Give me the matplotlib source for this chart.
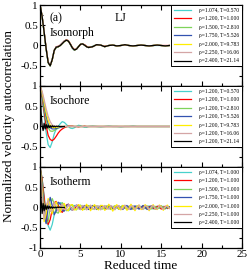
import matplotlib
matplotlib.use("Agg")
import matplotlib.pyplot as plt
import numpy as np

plt.rcParams['font.family'] = ['Liberation Serif', 'DejaVu Serif']
plt.rcParams['axes.unicode_minus'] = False

# colours in legend order
colors = ['#48d1cc', '#ff0000', '#7fd35a', '#3352b0', '#ffee00', '#d4a5a5', '#000000']

# legend labels
labels_isomorph = ['ρ=1.074, T=0.570', 'ρ=1.200, T=1.000', 'ρ=1.500, T=2.810', 'ρ=1.750, T=5.526',
                   'ρ=2.000, T=9.783', 'ρ=2.250, T=16.06', 'ρ=2.400, T=21.14']
labels_isochore = ['ρ=1.200, T=0.570', 'ρ=1.200, T=1.000', 'ρ=1.200, T=2.810', 'ρ=1.200, T=5.526',
                   'ρ=1.200, T=9.783', 'ρ=1.200, T=16.06', 'ρ=1.200, T=21.14']
labels_isotherm = ['ρ=1.074, T=1.000', 'ρ=1.200, T=1.000', 'ρ=1.500, T=1.000', 'ρ=1.750, T=1.000',
                   'ρ=2.000, T=1.000', 'ρ=2.250, T=1.000', 'ρ=2.400, T=1.000']

# time grids (reduced units)
t_long = np.concatenate([np.arange(0, 6.01, 0.25), np.arange(6.5, 16.01, 0.5)])   # 45 pts
t_fine = np.arange(0, 16.01, 0.25)                                                 # 65 pts
t_short = np.arange(0, 3.01, 0.125)                                                # 25 pts

# --- isomorph (all collapse) ---
iso_turq = [1.00, 0.71, 0.31, -0.10, -0.43, -0.51, -0.36, -0.13, -0.05, -0.03, 0.01, 0.06, 0.11, 0.14, 0.11, 0.02, -0.07, -0.12, -0.09, -0.02, 0.03, 0.04, 0.01, -0.03, -0.05,
            -0.02, 0.02, 0.01, -0.02, 0.00, 0.01, -0.01, 0.00, 0.02, 0.00, -0.01, 0.00, 0.01, 0.00, -0.01, 0.00, 0.00, 0.00, -0.01, 0.00]
iso_red = [1.00, 0.72, 0.34, -0.07, -0.41, -0.50, -0.36, -0.13, -0.03, -0.02, 0.01, 0.06, 0.11, 0.14, 0.12, 0.04, -0.05, -0.10, -0.09, -0.03, 0.02, 0.04, 0.02, -0.02, -0.04,
           -0.03, 0.02, 0.01, -0.02, 0.00, 0.01, -0.01, 0.00, 0.01, 0.00, -0.01, 0.00, 0.01, 0.00, -0.01, 0.00, 0.01, 0.00, 0.00, 0.00]
iso_green = [1.00, 0.72, 0.33, -0.08, -0.42, -0.50, -0.35, -0.12, -0.04, -0.03, 0.00, 0.05, 0.10, 0.13, 0.11, 0.03, -0.06, -0.11, -0.09, -0.03, 0.03, 0.04, 0.01, -0.03, -0.05,
             -0.03, 0.02, 0.01, -0.03, 0.00, 0.01, -0.01, 0.00, 0.02, 0.00, -0.01, 0.00, 0.01, 0.00, -0.01, 0.00, 0.01, 0.00, -0.01, 0.00]
iso_blue = [1.00, 0.72, 0.33, -0.08, -0.42, -0.50, -0.35, -0.12, -0.04, -0.03, 0.00, 0.05, 0.10, 0.13, 0.11, 0.03, -0.06, -0.11, -0.09, -0.03, 0.03, 0.04, 0.01, -0.03, -0.05,
            -0.03, 0.02, 0.01, -0.03, 0.00, 0.01, -0.01, 0.00, 0.02, 0.00, -0.01, 0.00, 0.01, 0.00, -0.01, 0.00, 0.01, 0.00, -0.01, 0.00]
iso_yellow = [1.00, 0.72, 0.33, -0.08, -0.42, -0.50, -0.35, -0.12, -0.04, -0.03, 0.00, 0.05, 0.10, 0.13, 0.11, 0.03, -0.06, -0.11, -0.09, -0.03, 0.03, 0.04, 0.01, -0.03, -0.05,
              -0.03, 0.02, 0.01, -0.03, 0.00, 0.01, -0.01, 0.00, 0.02, 0.00, -0.01, 0.00, 0.01, 0.00, -0.01, 0.00, 0.01, 0.00, -0.01, 0.00]
iso_pink = [1.00, 0.73, 0.34, -0.07, -0.41, -0.49, -0.34, -0.11, -0.03, -0.02, 0.01, 0.06, 0.11, 0.13, 0.11, 0.03, -0.06, -0.11, -0.09, -0.03, 0.03, 0.04, 0.01, -0.03, -0.05,
            -0.03, 0.02, 0.01, -0.03, 0.00, 0.01, -0.01, 0.00, 0.02, 0.00, -0.01, 0.00, 0.01, 0.00, -0.01, 0.00, 0.01, 0.00, -0.01, 0.00]
iso_black = [1.00, 0.72, 0.33, -0.08, -0.42, -0.50, -0.35, -0.12, -0.04, -0.03, 0.00, 0.05, 0.10, 0.13, 0.11, 0.03, -0.06, -0.11, -0.09, -0.03, 0.03, 0.04, 0.01, -0.03, -0.05,
             -0.03, 0.02, 0.01, -0.03, 0.00, 0.01, -0.01, 0.00, 0.02, 0.00, -0.01, 0.00, 0.01, 0.00, -0.01, 0.00, 0.01, 0.00, -0.01, 0.00]

# --- isochore rho=1.2 ---
ich_turq = [1.00, 0.70, 0.28, -0.15, -0.45, -0.52, -0.38, -0.18, -0.06, 0.00, 0.07, 0.12, 0.10, 0.05, 0.00, -0.04, -0.05, -0.03, 0.00, 0.03, 0.02, 0.00, -0.02, -0.02, 0.00,
            0.01, 0.00, -0.01, 0.00, 0.01, 0.00, 0.00, -0.01, 0.00, 0.00, 0.01, 0.00, 0.00, 0.00, 0.00, 0.00, 0.00, 0.00, 0.00, 0.00]
ich_red = [1.00, 0.74, 0.38, 0.02, -0.22, -0.32, -0.35, -0.31, -0.24, -0.16, -0.10, -0.06, -0.03, -0.01, 0.01, 0.01, 0.01, 0.00, 0.00, -0.01, 0.00, 0.00, 0.01, 0.00, 0.00,
           0.00, 0.00, 0.00, 0.00, 0.00, 0.00, 0.00, 0.00, 0.00, 0.00, 0.00, 0.00, 0.00, 0.00, 0.00, 0.00, 0.00, 0.00, 0.00, 0.00]
ich_green = [1.00, 0.78, 0.46, 0.16, -0.03, -0.11, -0.12, -0.10, -0.07, -0.04, -0.02, -0.01, 0.00, 0.00, 0.00, 0.00, 0.00, 0.00, 0.00, 0.00, 0.00, 0.00, 0.00, 0.00, 0.00,
             0.00, 0.00, 0.00, 0.00, 0.00, 0.00, 0.00, 0.00, 0.00, 0.00, 0.00, 0.00, 0.00, 0.00, 0.00, 0.00, 0.00, 0.00, 0.00, 0.00]
ich_blue = [1.00, 0.81, 0.53, 0.26, 0.07, -0.03, -0.06, -0.06, -0.05, -0.03, -0.02, -0.01, 0.00, 0.00, 0.00, 0.00, 0.00, 0.00, 0.00, 0.00, 0.00, 0.00, 0.00, 0.00, 0.00,
            0.00, 0.00, 0.00, 0.00, 0.00, 0.00, 0.00, 0.00, 0.00, 0.00, 0.00, 0.00, 0.00, 0.00, 0.00, 0.00, 0.00, 0.00, 0.00, 0.00]
ich_yellow = [1.00, 0.84, 0.59, 0.34, 0.15, 0.03, -0.02, -0.03, -0.02, -0.01, 0.00, 0.00, 0.00, 0.00, 0.00, 0.00, 0.00, 0.00, 0.00, 0.00, 0.00, 0.00, 0.00, 0.00, 0.00,
              0.00, 0.00, 0.00, 0.00, 0.00, 0.00, 0.00, 0.00, 0.00, 0.00, 0.00, 0.00, 0.00, 0.00, 0.00, 0.00, 0.00, 0.00, 0.00, 0.00]
ich_pink = [1.00, 0.87, 0.66, 0.44, 0.25, 0.12, 0.04, 0.01, 0.00, 0.00, 0.00, 0.00, 0.00, 0.00, 0.00, 0.00, 0.00, 0.00, 0.00, 0.00, 0.00, 0.00, 0.00, 0.00, 0.00,
            0.00, 0.00, 0.00, 0.00, 0.00, 0.00, 0.00, 0.00, 0.00, 0.00, 0.00, 0.00, 0.00, 0.00, 0.00, 0.00, 0.00, 0.00, 0.00, 0.00]
ich_black = [1.00, 0.35, 0.02, -0.10, 0.08, -0.06, 0.05, -0.04, 0.03, -0.03, 0.02, -0.02, 0.02, -0.01, 0.01, -0.01, 0.01, 0.00, 0.01, 0.00, 0.00, 0.00, 0.00, 0.00, 0.00]

# --- isotherm T=1.0 ---
ith_turq = [1.00, 0.72, 0.30, -0.12, -0.45, -0.56, -0.42, -0.18,
            -0.02, 0.06, 0.12, 0.10, 0.04, -0.04, -0.08, -0.05,
            0.02, 0.05, 0.03, -0.02, -0.05, -0.01, 0.03, 0.04,
            -0.01, -0.04, 0.02, 0.05, 0.00, -0.04, 0.01, 0.03,
            -0.02, -0.03, 0.02, 0.04, -0.01, -0.04, 0.01, 0.03,
            -0.02, -0.02, 0.03, 0.02, -0.03, -0.01, 0.04, 0.00,
            -0.03, 0.02, 0.03, -0.02, -0.03, 0.02, 0.04, -0.01,
            -0.04, 0.01, 0.03, -0.02, -0.02, 0.03, 0.01, -0.03,
            0.00]
ith_red = [1.00, 0.70, 0.24, -0.22, -0.42, -0.30, -0.05, 0.12,
           0.15, 0.05, -0.08, -0.12, -0.04, 0.06, 0.08, 0.01,
           -0.06, -0.04, 0.04, 0.06, -0.02, -0.05, 0.02, 0.05,
           -0.01, -0.04, 0.03, 0.04, -0.03, -0.02, 0.04, 0.01,
           -0.04, 0.02, 0.04, -0.02, -0.03, 0.03, 0.02, -0.04,
           0.01, 0.04, -0.02, -0.03, 0.03, 0.01, -0.04, 0.02,
           0.03, -0.03, -0.01, 0.04, 0.00, -0.03, 0.02, 0.03,
           -0.02, -0.03, 0.03, 0.02, -0.04, 0.01, 0.03, -0.02,
           0.00]
ith_green = [1.00, 0.62, 0.05, -0.38, -0.35, 0.02, 0.22, 0.10,
             -0.12, -0.14, 0.02, 0.12, 0.05, -0.08, -0.07, 0.04,
             0.07, -0.02, -0.06, 0.01, 0.06, 0.01, -0.05, -0.01,
             0.05, 0.02, -0.04, -0.03, 0.04, 0.03, -0.03, -0.04,
             0.03, 0.04, -0.02, -0.05, 0.02, 0.04, -0.01, -0.04,
             0.02, 0.05, -0.02, -0.03, 0.03, 0.03, -0.04, -0.02,
             0.04, 0.02, -0.03, -0.03, 0.03, 0.04, -0.02, -0.04,
             0.02, 0.03, -0.03, -0.02, 0.04, 0.01, -0.03, 0.00,
             0.01]
ith_blue = [1.00, 0.52, -0.18, -0.40, 0.00, 0.25, 0.05, -0.18,
            -0.08, 0.13, 0.09, -0.08, -0.09, 0.05, 0.08, -0.03,
            -0.07, 0.02, 0.06, -0.01, -0.05, 0.01, 0.05, 0.00,
            -0.05, 0.00, 0.05, 0.01, -0.05, -0.01, 0.05, 0.02,
            -0.04, -0.03, 0.04, 0.03, -0.03, -0.04, 0.03, 0.04,
            -0.02, -0.05, 0.02, 0.05, -0.01, -0.05, 0.01, 0.04,
            0.00, -0.04, 0.00, 0.05, 0.01, -0.05, -0.01, 0.04,
            0.02, -0.04, -0.02, 0.04, 0.03, -0.03, -0.03, 0.03,
            0.02]
ith_yellow = [1.00, 0.40, -0.35, -0.15, 0.22, 0.05, -0.16, 0.02,
              0.14, -0.02, -0.12, 0.04, 0.10, -0.05, -0.08, 0.06,
              0.07, -0.06, -0.05, 0.07, 0.04, -0.07, -0.02, 0.08,
              0.01, -0.08, 0.02, 0.07, -0.03, -0.06, 0.05, 0.05,
              -0.07, -0.03, 0.08, 0.01, -0.09, 0.02, 0.07, -0.03,
              -0.06, 0.05, 0.04, -0.07, -0.02, 0.08, 0.00, -0.08,
              0.03, 0.06, -0.05, -0.04, 0.07, 0.02, -0.08, 0.01,
              0.07, -0.04, -0.05, 0.06, 0.03, -0.07, 0.00, 0.06,
              -0.02]
ith_pink = [1.00, 0.30, -0.30, 0.05, 0.18, -0.10, -0.08, 0.12,
            0.02, -0.10, 0.04, 0.08, -0.05, -0.05, 0.07, 0.02,
            -0.07, 0.01, 0.06, -0.03, -0.05, 0.05, 0.03, -0.06,
            0.00, 0.06, -0.02, -0.05, 0.04, 0.03, -0.06, 0.01,
            0.05, -0.03, -0.04, 0.05, 0.02, -0.06, 0.02, 0.05,
            -0.04, -0.03, 0.06, 0.00, -0.05, 0.03, 0.04, -0.05,
            -0.01, 0.06, -0.02, -0.05, 0.04, 0.03, -0.06, 0.01,
            0.05, -0.03, -0.04, 0.05, 0.01, -0.05, 0.03, 0.03,
            -0.03]
ith_black = [1.00, 0.20, -0.15, 0.10, -0.08, 0.06, -0.05, 0.04, -0.03, 0.03, -0.02, 0.02, -0.02, 0.01, -0.01, 0.01, -0.01, 0.01, 0.00, 0.01, 0.00, 0.00, 0.00, 0.00, 0.00]

panels = [
    ('Isomorph', labels_isomorph,
     [(t_long, iso_turq), (t_long, iso_red), (t_long, iso_green), (t_long, iso_blue),
      (t_long, iso_yellow), (t_long, iso_pink), (t_long, iso_black)]),
    ('Isochore', labels_isochore,
     [(t_long, ich_turq), (t_long, ich_red), (t_long, ich_green), (t_long, ich_blue),
      (t_long, ich_yellow), (t_long, ich_pink), (t_short, ich_black)]),
    ('Isotherm', labels_isotherm,
     [(t_fine, ith_turq), (t_fine, ith_red), (t_fine, ith_green), (t_fine, ith_blue),
      (t_fine, ith_yellow), (t_fine, ith_pink), (t_short, ith_black)]),
]

fig, axes = plt.subplots(3, 1, sharex=True, figsize=(2.49, 2.78), dpi=100)
fig.subplots_adjust(left=0.161, right=0.972, top=0.982, bottom=0.108, hspace=0)

for i, (ax, (name, labels, curves)) in enumerate(zip(axes, panels)):
    for (t, v), c, lab in zip(curves, colors, labels):
        ax.plot(t, v, color=c, lw=0.9, label=lab)
    ax.set_xlim(0, 25)
    ax.set_ylim(-1, 1)
    ax.set_xticks(np.arange(0, 26, 5))
    ax.set_xticks(np.arange(0, 26, 2.5), minor=True)
    ax.set_yticks([-1, -0.5, 0, 0.5, 1])
    ax.set_yticks(np.arange(-1, 1.01, 0.25), minor=True)
    if i < 2:
        ax.set_yticklabels(['', '-0.5', '0', '0.5', '1'])
    else:
        ax.set_yticklabels(['-1', '-0.5', '0', '0.5', '1'])
    ax.tick_params(which='both', direction='in', top=True, right=True, labelsize=8, pad=1.5, width=0.8)
    ax.tick_params(which='major', length=3.5)
    ax.tick_params(which='minor', length=2)
    for s in ax.spines.values():
        s.set_linewidth(0.9)
    leg = ax.legend(loc='upper right', fontsize=4.0, handlelength=3.0, handletextpad=1.5,
                    labelspacing=0.62, borderpad=0.5, borderaxespad=0, fancybox=False,
                    edgecolor='black', framealpha=1)
    leg.get_frame().set_linewidth(0.7)
    ytxt = 0.65 if i == 0 else 0.81
    ax.text(0.048, ytxt, name, transform=ax.transAxes, fontsize=8.5, va='center', ha='left')

axes[0].text(0.048, 0.84, '(a)', transform=axes[0].transAxes, fontsize=8.5, va='center', ha='left')
axes[0].text(0.37, 0.84, 'LJ', transform=axes[0].transAxes, fontsize=8.5, va='center', ha='left')

axes[2].set_xlabel('Reduced time', fontsize=9.5, labelpad=1)
fig.text(0.038, 0.545, 'Normalized velocity autocorrelation', rotation=90, fontsize=9.5,
         va='center', ha='center')

plt.savefig('out.png', dpi=100)
